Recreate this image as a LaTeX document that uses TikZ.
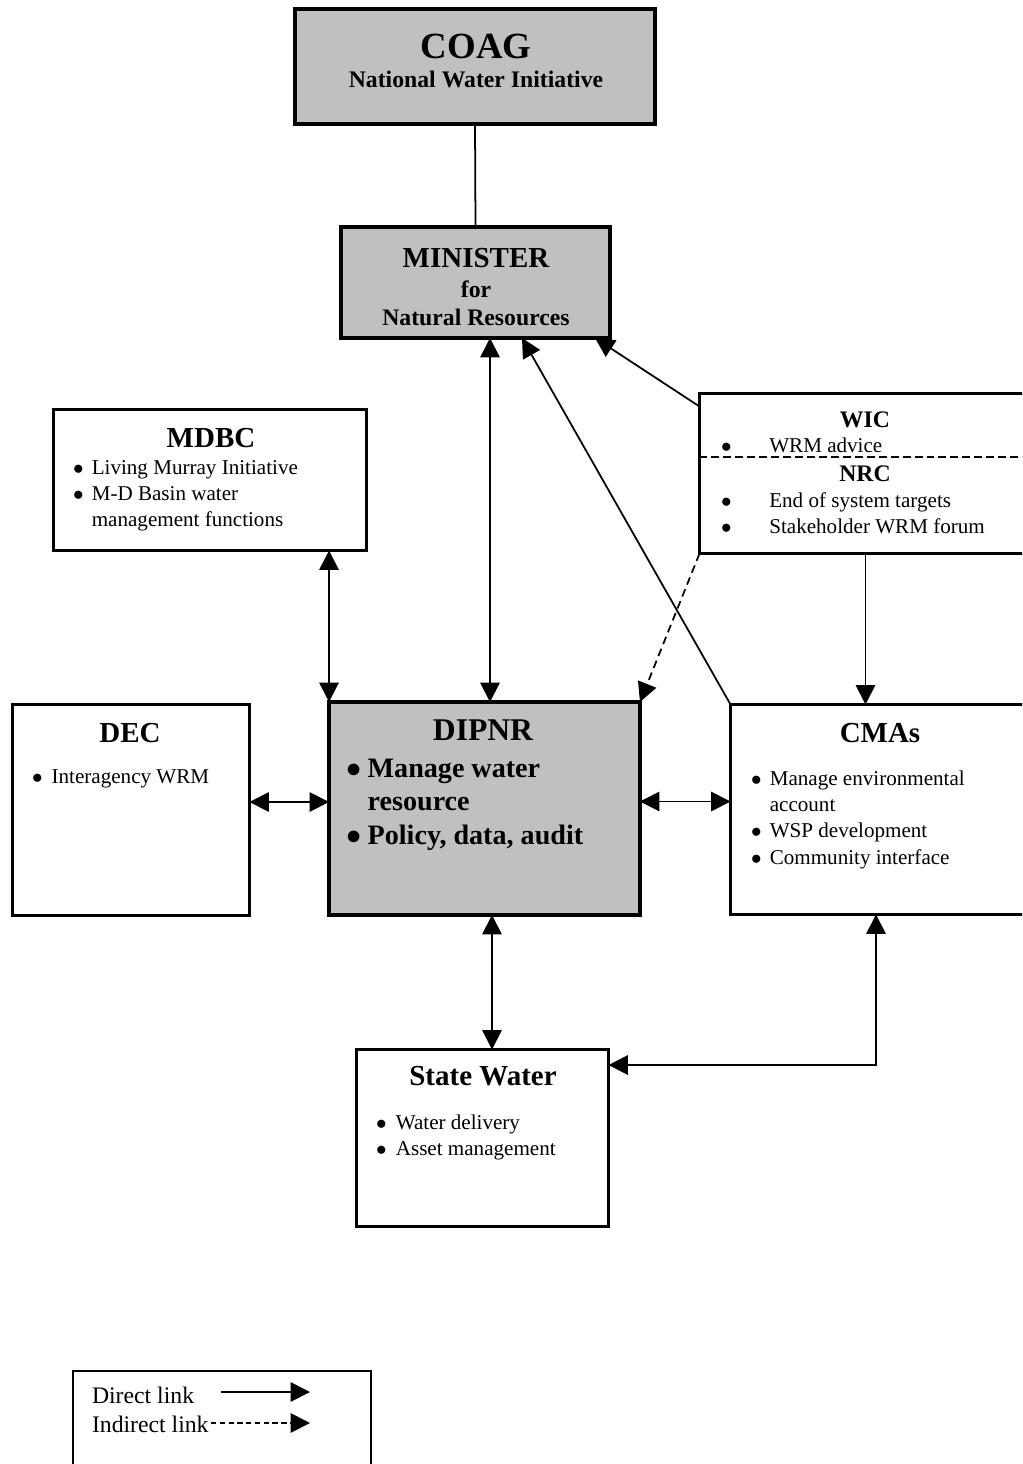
\documentclass[tikz,border=0pt]{standalone}
\usepackage{fontspec}
\setmainfont{Liberation Serif}
\usetikzlibrary{arrows.meta,scopes}
\definecolor{boxgrey}{HTML}{C0C0C0}
\newcommand{\items}[2]{\begin{tabular}[t]{@{}l@{\hspace{#1}}l@{}}#2\end{tabular}}

\begin{document}
\begin{tikzpicture}[x=0.02cm,y=-0.02cm,
  >={Triangle[length=11pt,width=11pt]},
  every node/.style={inner sep=0pt,outer sep=0pt},
  frame/.style={draw,line width=1.7pt},
  heavy/.style={draw,line width=2.3pt,fill=boxgrey},
  title/.style={anchor=base,font=\fontsize{16.5}{19}\selectfont\bfseries},
  subtitle/.style={anchor=base,font=\fontsize{13.5}{16}\selectfont\bfseries},
  list/.style={anchor=base west,font=\fontsize{12}{15}\selectfont},
  link/.style={line width=1pt}]

\path[use as bounding box,clip] (0,0) rectangle (1022,1464);

\path node[heavy,minimum width=7.2cm,minimum height=2.3cm]   (coag) at (475,66.5)    {}
      node[heavy,minimum width=5.38cm,minimum height=2.22cm] (min)  at (475.5,282.5) {}
      node[frame,minimum width=6.26cm,minimum height=2.82cm] (mdbc) at (210,480)     {}
      node[frame,minimum width=6.64cm,minimum height=3.2cm]  (wic)  at (865.5,473.5) {}
      node[frame,minimum width=4.74cm,minimum height=4.22cm] (dec)  at (131,810)     {}
      node[heavy,minimum width=6.22cm,minimum height=4.26cm] (dip)  at (484.5,808.5) {}
      node[frame,minimum width=6.02cm,minimum height=4.2cm]  (cmas) at (881,809.5)   {}
      node[frame,minimum width=5.04cm,minimum height=3.54cm] (sw)   at (482.5,1138)  {}
      node[draw,line width=1.1pt,minimum width=5.96cm,minimum height=2.36cm] (key) at (222,1430) {};

\path node[title,font=\fontsize{21}{25}\selectfont\bfseries] (coagT) at (476,58) {COAG}
      node[subtitle] (coagS) at (476,87)  {National Water Initiative}
      node[title]    (minT)  at (476,267) {MINISTER}
      node[subtitle] (minF)  at (476,297) {for}
      node[subtitle] (minR)  at (476,325) {Natural Resources}
      node[title]    (mdbcT) at (211,447) {MDBC}
      node[list]     (mdbcL) at (73,474)  {\items{4.7pt}{$\bullet$ & Living Murray Initiative\\
                                                          $\bullet$ & M-D Basin water\\
                                                                    & management functions}}
      node[subtitle] (wicT)  at (865,427) {WIC}
      node[list]     (wicL)  at (721,452) {\items{21.5pt}{$\bullet$ & WRM advice}}
      node[subtitle] (nrcT)  at (865,481) {NRC}
      node[list]     (nrcL)  at (721,507) {\items{21.5pt}{$\bullet$ & End of system targets\\
                                                           $\bullet$ & Stakeholder WRM forum}}
      node[title]    (decT)  at (130,742) {DEC}
      node[list]     (decL)  at (32,783)  {\items{5.2pt}{$\bullet$ & Interagency WRM}}
      node[title,font=\fontsize{18}{21}\selectfont\bfseries] (dipT) at (483,740) {DIPNR}
      node[list,font=\fontsize{16}{19.3}\selectfont\bfseries] (dipL) at (346,777)
                                          {\items{3.7pt}{$\bullet$ & Manage water\\
                                                                   & resource\\
                                                         $\bullet$ & Policy, data, audit}}
      node[title]    (cmasT) at (880,742) {CMAs}
      node[list]     (cmasL) at (751,785) {\items{4.7pt}{$\bullet$ & Manage environmental\\
                                                                    & account\\
                                                          $\bullet$ & WSP development\\
                                                          $\bullet$ & Community interface}}
      node[title]    (swT)   at (483,1085) {State Water}
      node[list]     (swL)   at (376,1129) {\items{5.3pt}{$\bullet$ & Water delivery\\
                                                           $\bullet$ & Asset management}}
      node[list,font=\fontsize{13.5}{16}\selectfont] (keyD) at (92,1403) {Direct link}
      node[list,font=\fontsize{13.5}{16}\selectfont] (keyI) at (92,1432) {Indirect link};

\coordinate (d1) at (221,1392);
\coordinate (d2) at (310,1392);
\coordinate (i1) at (211,1423);
\coordinate (i2) at (310,1423);

\draw[line width=1pt,dash pattern=on 4.5pt off 2.3pt]
      ([yshift=0.33cm]wic.west) -- ([yshift=0.33cm]wic.east);

{[link]
 \draw (coag.south) -- (min.north);
 {[<->]
  \draw ([xshift=0.11cm]dip.north |- min.south) -- ([xshift=0.11cm]dip.north);
  \draw (dip.north west |- mdbc.south)           -- (dip.north west);
  \draw ([yshift=0.16cm]dec.east) -- ([yshift=0.16cm]dec.east -| dip.west);
  \draw ([yshift=0.14cm]dip.east) -- ([yshift=0.14cm]dip.east -| cmas.west);
  \draw ([xshift=0.15cm]dip.south) -- ([xshift=0.15cm]dip.south |- sw.north);
  \draw ([xshift=-0.1cm]cmas.south) |- ([yshift=1.46cm]sw.east);
 }
 {[->]
  \draw (cmas.north west)            -- ([xshift=0.93cm]min.south);
  \draw ([yshift=-0.26cm]wic.north west) -- ([xshift=-0.3cm]min.south east);
  \draw (wic.south)                  -- (wic.south |- cmas.north);
  \draw[dash pattern=on 4.5pt off 2.8pt] (wic.south west) -- (dip.north east);
  \draw (d1) -- (d2);
  \draw[dash pattern=on 3pt off 2pt] (i1) -- (i2);
 }
}
\end{tikzpicture}
\end{document}
